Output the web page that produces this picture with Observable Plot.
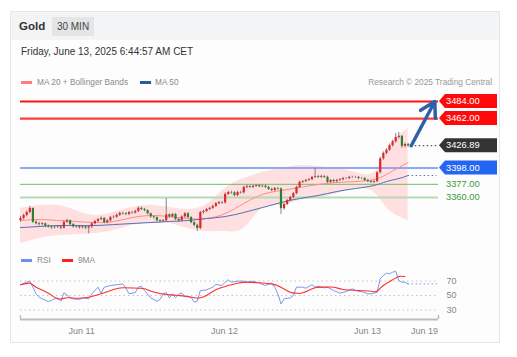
<!DOCTYPE html>
<html><head><meta charset="utf-8">
<script src="https://cdn.jsdelivr.net/npm/d3@7"></script>
<script src="https://cdn.jsdelivr.net/npm/@observablehq/plot@0.6"></script>
<style>
body{margin:0;background:#fff;font-family:"Liberation Sans",Arial,sans-serif;width:517px;height:357px;position:relative;overflow:hidden}
.abs{position:absolute;white-space:nowrap}
#card{left:10px;top:11px;width:488px;height:330px;border:1px solid #e4e6e9;background:#fdfdfd}
#head{left:11px;top:12px;width:488px;height:28px;background:#f3f4f5}
#gold{left:19px;top:19px;font-size:11.5px;font-weight:bold;color:#333;line-height:14px}
#badge{left:52px;top:17px;width:42px;height:19px;background:#e4e5e7;color:#444;font-size:10px;line-height:19px;text-align:center}
#date{left:21px;top:45px;font-size:10px;color:#333;line-height:14px}
.lg{font-size:8.3px;color:#8a8a8a;line-height:10px}
.sw{height:3px;width:11px}
#p1{left:0;top:90px}
#p2{left:0;top:265px}
</style></head>
<body>
<div id="card" class="abs"></div>
<div id="head" class="abs"></div>
<div id="gold" class="abs">Gold</div>
<div id="badge" class="abs">30 MIN</div>
<div id="date" class="abs">Friday, June 13, 2025 6:44:57 AM CET</div>
<div class="abs sw" style="left:21px;top:81px;background:#ff7b7b"></div>
<div class="abs lg" style="left:37px;top:77px">MA 20 + Bollinger Bands</div>
<div class="abs sw" style="left:140px;top:81px;background:#2d5a9e"></div>
<div class="abs lg" style="left:155px;top:77px">MA 50</div>
<div class="abs lg" style="right:25px;top:77px;color:#999">Research © 2025 Trading Central</div>
<div class="abs sw" style="left:21px;top:259px;background:#6f8fe8"></div>
<div class="abs lg" style="left:37px;top:255px">RSI</div>
<div class="abs sw" style="left:62px;top:259px;background:#ff2020"></div>
<div class="abs lg" style="left:78px;top:255px">9MA</div>
<div id="p1" class="abs"></div>
<div id="p2" class="abs"></div>
<script>
// ---- candles (30 min bars, index 0..125) ----
const open = [3330.0,3332.8,3336.7,3340.6,3345.8,3328.0,3326.0,3325.0,3326.0,3323.0,3322.0,3321.0,3321.5,3322.0,3320.5,3328.0,3330.0,3325.0,3322.0,3322.5,3321.0,3322.0,3320.5,3322.0,3326.0,3329.0,3331.5,3333.0,3327.5,3330.0,3334.0,3334.5,3337.0,3339.5,3339.0,3338.0,3340.5,3340.0,3342.0,3346.0,3344.5,3343.0,3339.0,3335.0,3334.0,3330.0,3329.0,3330.0,3337.5,3335.0,3338.0,3331.5,3330.0,3335.0,3339.0,3334.0,3327.5,3324.0,3320.0,3340.5,3342.0,3344.5,3346.0,3348.5,3352.0,3353.5,3353.0,3364.0,3366.5,3366.0,3362.5,3366.5,3366.0,3373.0,3374.0,3373.0,3374.5,3375.5,3374.0,3374.5,3373.0,3370.5,3369.0,3371.5,3371.0,3345.5,3351.0,3356.0,3360.0,3365.0,3373.0,3379.5,3380.5,3382.0,3383.0,3386.0,3387.0,3386.0,3387.0,3386.0,3379.5,3382.0,3380.5,3382.0,3383.0,3384.5,3384.5,3386.0,3386.0,3386.0,3384.5,3384.5,3382.0,3380.5,3379.5,3380.5,3392.0,3410.0,3417.0,3421.0,3427.0,3432.0,3437.5,3439.0,3426.0,3428.5];
const high = [3335.5,3338.5,3342.5,3348.5,3346.5,3330.0,3328.0,3327.5,3327.0,3324.5,3323.5,3323.0,3323.5,3323.5,3330.0,3332.0,3331.0,3326.5,3324.0,3324.0,3323.5,3323.5,3323.5,3327.5,3330.5,3333.0,3335.0,3334.0,3331.5,3335.5,3336.5,3338.5,3341.0,3341.0,3340.5,3342.0,3342.0,3343.5,3348.0,3347.5,3346.0,3344.0,3340.0,3336.5,3335.0,3331.5,3331.5,3358.5,3339.0,3339.5,3339.5,3333.0,3336.5,3340.5,3340.5,3335.5,3329.0,3325.5,3342.0,3343.5,3346.0,3347.5,3350.0,3353.5,3355.0,3355.0,3366.0,3368.0,3368.0,3367.5,3368.0,3368.0,3374.5,3376.0,3375.5,3376.0,3377.0,3376.5,3376.0,3376.0,3374.5,3372.0,3373.0,3373.0,3372.5,3352.5,3357.5,3361.5,3366.5,3374.5,3381.0,3382.0,3383.5,3384.5,3387.5,3397.5,3388.5,3389.0,3388.5,3387.5,3383.5,3383.5,3383.5,3384.5,3386.0,3386.0,3387.5,3387.5,3387.5,3387.0,3386.0,3386.0,3383.5,3382.0,3382.0,3393.5,3412.0,3419.0,3423.0,3429.0,3434.0,3442.5,3444.0,3440.0,3430.5,3430.0];
const low = [3328.0,3331.0,3335.0,3339.0,3326.5,3324.5,3323.0,3323.5,3321.0,3320.5,3319.0,3319.5,3320.0,3318.5,3319.0,3326.5,3323.0,3320.5,3320.0,3319.0,3319.5,3318.5,3313.0,3320.0,3324.5,3327.5,3330.0,3326.0,3326.0,3328.5,3332.5,3333.0,3335.5,3337.0,3336.5,3336.5,3338.5,3338.5,3340.5,3343.0,3341.5,3337.5,3333.0,3332.0,3328.0,3327.0,3327.5,3328.5,3333.0,3333.5,3330.0,3328.0,3328.5,3333.0,3332.5,3326.0,3322.0,3316.0,3318.5,3338.5,3340.5,3343.0,3344.5,3347.0,3350.5,3351.0,3351.5,3362.5,3364.0,3361.0,3361.0,3364.5,3364.5,3371.5,3371.5,3371.5,3373.0,3372.5,3372.5,3371.5,3369.0,3367.5,3367.5,3369.5,3338.0,3343.5,3349.5,3354.5,3358.5,3363.5,3371.5,3378.0,3379.0,3380.5,3381.5,3384.5,3384.5,3384.5,3384.5,3378.0,3378.0,3379.0,3379.0,3380.5,3381.5,3383.0,3383.0,3384.5,3384.5,3383.0,3383.0,3380.5,3379.0,3378.0,3378.0,3379.0,3390.5,3408.0,3415.0,3419.5,3425.0,3430.0,3435.5,3423.5,3424.0,3424.5];
const close = [3332.8,3336.7,3340.6,3345.8,3328.0,3326.0,3325.0,3326.0,3323.0,3322.0,3321.0,3321.5,3322.0,3320.5,3328.0,3330.0,3325.0,3322.0,3322.5,3321.0,3322.0,3320.5,3322.0,3326.0,3329.0,3331.5,3333.0,3327.5,3330.0,3334.0,3334.5,3337.0,3339.5,3339.0,3338.0,3340.5,3340.0,3342.0,3346.0,3344.5,3343.0,3339.0,3335.0,3334.0,3330.0,3329.0,3330.0,3337.5,3335.0,3338.0,3331.5,3330.0,3335.0,3339.0,3334.0,3327.5,3324.0,3320.0,3340.5,3342.0,3344.5,3346.0,3348.5,3352.0,3353.5,3353.0,3364.0,3366.5,3366.0,3362.5,3366.5,3366.0,3373.0,3374.0,3373.0,3374.5,3375.5,3374.0,3374.5,3373.0,3370.5,3369.0,3371.5,3371.0,3345.5,3351.0,3356.0,3360.0,3365.0,3373.0,3379.5,3380.5,3382.0,3383.0,3386.0,3387.0,3386.0,3387.0,3386.0,3379.5,3382.0,3380.5,3382.0,3383.0,3384.5,3384.5,3386.0,3386.0,3386.0,3384.5,3384.5,3382.0,3380.5,3379.5,3380.5,3392.0,3410.0,3417.0,3421.0,3427.0,3432.0,3437.5,3439.0,3426.0,3428.5,3426.89];

// ---- indicators (sampled at bar indices) ----
const bandBar = [0,6,12,18,24,30,36,42,48,54,60,66,72,78,84,90,96,102,108,114,118,122,125];
const bbUpper = [3345.8,3349.6,3349.6,3343,3336.7,3340.6,3347,3349.6,3347,3344.5,3351,3371.6,3384.5,3392.3,3397.4,3401.3,3400,3397.4,3392.3,3392.3,3420.7,3440,3449];
const bbLower = [3300.5,3307,3311,3312,3313.5,3317.3,3323.8,3326.4,3326.4,3320,3316,3316,3320,3345.8,3349.6,3356,3360,3365,3371.6,3366.4,3347,3335.4,3330.3];
const ma20 = [3330.3,3331.5,3330.3,3329,3327.7,3329,3334,3336.7,3335.4,3332.8,3332.8,3339.3,3352.2,3363.9,3369,3372.9,3376.8,3379.3,3380.6,3383.2,3389.7,3398.7,3405.2];
const ma50 = [3321.2,3322.5,3323.8,3323.8,3323.8,3325,3326.4,3327.7,3329,3330.3,3332.8,3335.4,3340.6,3347,3353.5,3358.7,3362.6,3367.7,3371.6,3375.5,3380.6,3384.5,3388.4];

const rsiBar = [0,2,3,4,5,6,7,9,10,11,12,13,14,15,16,17,19,20,22,23,24,25,26,27,29,31,33,34,35,37,38,39,40,42,44,45,46,47,48,49,50,51,52,53,55,56,57,58,60,62,63,65,66,67,68,70,72,73,75,77,79,81,82,83,84,85,87,88,89,91,92,94,95,96,98,99,101,103,105,107,109,110,112,113,115,116,117,118,119,120,121,122,123,124,125];
const rsiVal = [64.8,68.4,69.8,61.5,52.3,47.7,45.4,41.7,43.1,45.4,46.8,42.2,53.7,51,46.8,45.4,44.5,46.8,45.4,52.3,56.9,61.5,53.2,61.5,63.8,64.8,66.1,60.1,52.3,54.1,61.5,62.8,56.9,46.8,42.2,44.5,52.3,54.1,46.8,52.3,46.8,51.4,53.7,48.6,47.7,40.8,42.2,56.9,57.8,61.5,65.2,63.8,68.4,71.7,68.4,69.8,69.8,68.4,69.8,67,63.8,67,61.5,52.3,38.5,45.4,46.8,50,61.5,61.5,60.1,64.8,61.5,62.8,60.6,61.5,56.9,53.2,55.5,59.2,55.5,55.5,52.3,52.3,54.5,73,77.6,80.8,79.9,82.1,83.5,70.7,68.4,68.4,66.1];
const maBar = [0,3,5,9,12,15,18,22,26,30,33,38,40,44,47,51,54,57,60,63,67,70,73,77,81,84,87,89,91,95,98,101,104,109,113,115,117,120,122,124];
const maVal = [64.8,67,61.5,53.2,45.4,46.8,46.3,47.7,52.3,58.3,60.6,60.1,59.2,53.7,51.4,50,48.6,46.3,50,57.8,63.8,67,68.4,67.5,66.1,61.5,54.5,53.2,53.7,60.6,61.5,61.5,58.3,56.9,55.9,55.9,63.8,71.7,76.2,76.2];

// ---- levels & axis ----
const levels = [3484, 3462, 3398, 3377, 3360];
const lastPrice = 3426.89;
const targetPrice = 3484;
const rsiLevels = [70, 50, 30];
const tickBar = [19.7, 65.8, 111.9, 130.3];
const tickLabel = ["Jun 11", "Jun 12", "Jun 13", "Jun 19"];
const axisEndBar = 134.8;

// ---- build tables ----
const lastBar = close.length - 1;
const candles = close.map((c, i) => ({i, o: open[i], h: high[i], l: low[i], c}));
const bands = bandBar.map((b, k) => ({i: b, up: bbUpper[k], lo: bbLower[k], m20: ma20[k], m50: ma50[k]}));
const rsi = rsiBar.map((b, k) => ({i: b, v: rsiVal[k]}));
const rsiMa = maBar.map((b, k) => ({i: b, v: maVal[k]}));

const lineStyles = [
  {stroke: "#ff1212", w: 2}, {stroke: "#ff3b3b", w: 2.2}, {stroke: "#8eaaf2", w: 2},
  {stroke: "#6cbf6c", w: 1}, {stroke: "#b4dcb4", w: 2}
];
const boxStyles = [
  {fill: "#ff0a0a", text: "#fff"}, {fill: "#ff0a0a", text: "#fff"}, {fill: "#2466f4", text: "#fff"},
  {fill: null, text: "#3a9a3a"}, {fill: null, text: "#3a9a3a"}
];
const labelItems = [
  {value: levels[0], ...boxStyles[0]},
  {value: levels[1], ...boxStyles[1]},
  {value: lastPrice, fill: "#333", text: "#fff"},
  {value: levels[2], ...boxStyles[2]},
  {value: levels[3], ...boxStyles[3]},
  {value: levels[4], ...boxStyles[4]}
];

function labelMark(index, scales, values, dim) {
  const g = d3.create("svg:g").attr("font-family", "Liberation Sans, Arial, sans-serif")
    .attr("font-size", 9.3).attr("text-anchor", "start");
  const x0 = dim.width - dim.marginRight;
  for (const b of labelItems) {
    const y = scales.y(b.value);
    if (b.fill) g.append("path")
      .attr("d", `M${x0 + 1},${y} L${x0 + 7},${y - 7} H${x0 + 59} V${y + 7} H${x0 + 7} Z`)
      .attr("fill", b.fill);
    g.append("text").attr("x", x0 + 8).attr("y", y).attr("dy", "0.35em")
      .attr("fill", b.text).text(b.value.toFixed(2));
  }
  return g.node();
}

const priceChart = Plot.plot({
  width: 517, height: 155, marginLeft: 20, marginRight: 79, marginTop: 0, marginBottom: 0,
  x: {domain: [0, axisEndBar], axis: null},
  y: {domain: [3298, 3498.2], axis: null},
  color: {type: "identity"},
  style: {background: "transparent", overflow: "visible"},
  marks: [
    Plot.areaY(bands, {x: "i", y1: "lo", y2: "up", fill: "#ffd2d2", fillOpacity: 0.7, curve: "natural"}),
    ...levels.map((v, k) => Plot.ruleY([v], {stroke: lineStyles[k].stroke, strokeWidth: lineStyles[k].w})),
    Plot.lineY(bands, {x: "i", y: "m20", stroke: "#ff8c8c", strokeWidth: 1, curve: "natural"}),
    Plot.lineY(bands, {x: "i", y: "m50", stroke: "#4f72b8", strokeWidth: 1, curve: "natural"}),
    Plot.ruleX(candles, {x: "i", y1: "l", y2: "h", stroke: "#666", strokeWidth: 0.8}),
    Plot.ruleX(candles, {x: "i", y1: "o", y2: "c", stroke: d => d.c >= d.o ? "#e02626" : "#2f7d32", strokeWidth: 2.2}),
    Plot.ruleY([{y: lastPrice, x1: lastBar + 1, x2: axisEndBar}], {y: "y", x1: "x1", x2: "x2", stroke: "#333", strokeDasharray: "1.5,2.5"}),
    Plot.ruleY([{y: ma50[ma50.length - 1], x1: lastBar, x2: axisEndBar - 0.5}], {y: "y", x1: "x1", x2: "x2", stroke: "#4f72b8", strokeDasharray: "1.5,2.5"}),
    Plot.arrow([{x1: lastBar + 1, y1: lastPrice, x2: axisEndBar - 1.2, y2: targetPrice}],
      {x1: "x1", y1: "y1", x2: "x2", y2: "y2", stroke: "#2f5fa6", strokeWidth: 3.5, headLength: 9, insetEnd: 0}),
    labelMark
  ]
});
document.getElementById("p1").appendChild(priceChart);

const yMinR = 16.9;
const rsiChart = Plot.plot({
  width: 517, height: 70, marginLeft: 20, marginRight: 79, marginTop: 0, marginBottom: 16,
  x: {domain: [0, axisEndBar], axis: null},
  y: {domain: [yMinR, 91.4], axis: null},
  style: {background: "transparent", overflow: "visible", fontFamily: "Liberation Sans, Arial, sans-serif"},
  marks: [
    Plot.ruleY(rsiLevels, {stroke: "#c4c4c4", strokeDasharray: "1.5,3"}),
    Plot.lineY(rsi, {x: "i", y: "v", stroke: "#7b98ee", strokeWidth: 1}),
    Plot.lineY(rsiMa, {x: "i", y: "v", stroke: "#ff3030", strokeWidth: 1.1, curve: "natural"}),
    Plot.ruleY([{y: rsiVal[rsiVal.length - 1], x1: lastBar, x2: axisEndBar}], {y: "y", x1: "x1", x2: "x2", stroke: "#7b98ee", strokeDasharray: "1.5,2.5"}),
    Plot.text(rsiLevels, {x: axisEndBar, y: d => d, dx: 8, textAnchor: "start", fill: "#888", fontSize: 9}),
    Plot.ruleY([yMinR], {stroke: "#bdbdbd", strokeWidth: 2}),
    Plot.ruleX([0, axisEndBar], {y1: yMinR, y2: yMinR + 5.5, stroke: "#bdbdbd", strokeWidth: 1.5}),
    Plot.axisX({ticks: tickBar, tickFormat: (d) => tickLabel[tickBar.indexOf(d)], tickSize: 0, tickPadding: 8, fontSize: 9, color: "#888", label: null})
  ]
});
document.getElementById("p2").appendChild(rsiChart);
</script>
</body></html>
